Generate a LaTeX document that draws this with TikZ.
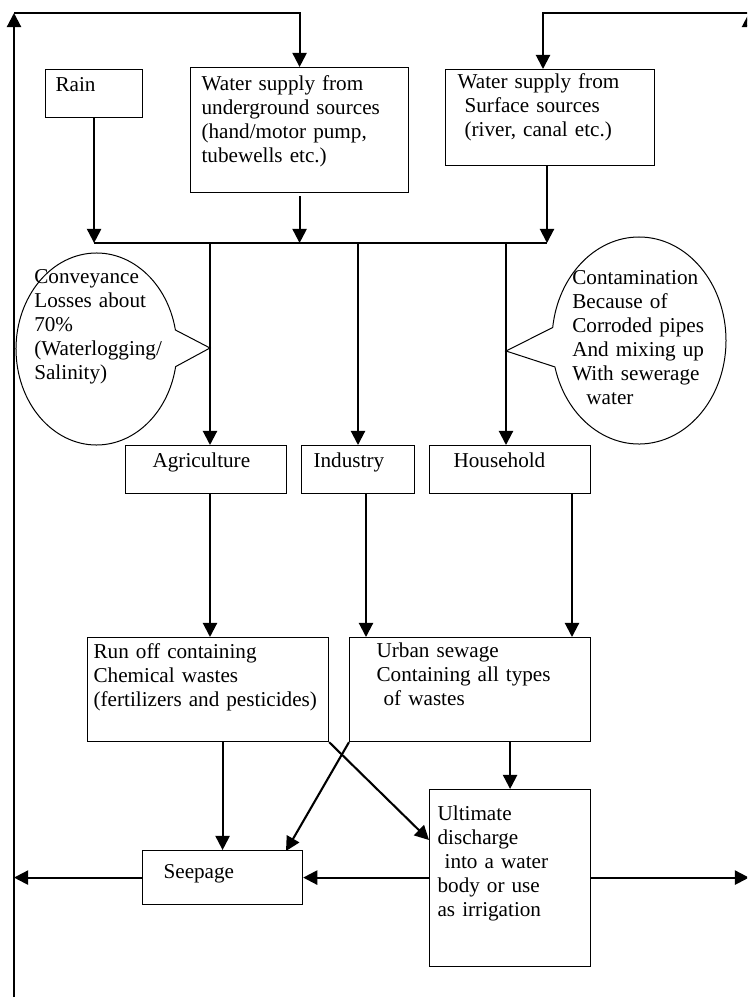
\documentclass[tikz,border=0pt]{standalone}
\usepackage{fontspec}
\setmainfont{Liberation Serif}
\usetikzlibrary{arrows.meta,shapes.callouts}

\begin{document}
\begin{tikzpicture}[x=0.6pt, y=-0.6pt,
    font=\fontsize{12.7pt}{14.4pt}\selectfont,
    box/.style={draw, line width=0.7pt, anchor=north west, align=left, inner ysep=0pt, text height=13.2pt},
    bubble/.style={ellipse callout, draw, line width=0.6pt, inner sep=0pt, callout pointer arc=22},
    note/.style={anchor=north west, align=left, inner sep=0pt, text width=100pt, text height=9pt},
    link/.style={line width=1.25pt},
    arr/.style={link, -{Triangle[length=8.5pt, width=8.5pt]}}]

    \useasboundingbox (0,0) rectangle (747,1000);
    \clip (0,0) rectangle (747,1000);

    % sources
    \node[box, inner xsep=6pt, text width=46.2pt, text depth=15.6pt] (rain) at (45,69) {Rain};
    \node[box, inner xsep=6.6pt, text width=117.6pt, text height=13.8pt, text depth=61.2pt] (ground) at (190,67) {Water supply from\\underground sources\\(hand/motor pump,\\tubewells etc.)};
    \node[box, inner xsep=7.2pt, text width=111pt, text height=11.4pt, text depth=46.2pt] (surface) at (445,69) {Water supply from\\\mbox{} Surface sources\\\mbox{} (river, canal etc.)};

    % users
    \node[box, inner xsep=16.2pt, text width=64.2pt, text depth=15.6pt] (agri) at (125,445) {Agriculture};
    \node[box, inner xsep=7.2pt, text width=53.4pt, text depth=15.6pt] (ind) at (301,445) {Industry};
    \node[box, inner xsep=14.4pt, text width=67.8pt, text depth=15.6pt] (house) at (429,445) {Household};

    % wastes
    \node[box, inner xsep=3.6pt, text width=137.4pt, text height=12.6pt, text depth=49.8pt] (runoff) at (87,637) {Run off containing\\Chemical wastes\\(fertilizers and pesticides)};
    \node[box, inner xsep=16.2pt, text width=112.2pt, text height=12pt, text depth=50.4pt] (sewage) at (349,637) {Urban sewage\\Containing all types\\\mbox{} of wastes};
    \node[box, inner xsep=4.8pt, text width=87pt, text height=18.6pt, text depth=87.6pt] (final) at (429,789) {Ultimate\\discharge\\\mbox{} into a water\\body or use\\as irrigation};
    \node[box, inner xsep=12.6pt, text width=70.8pt, text height=16.8pt, text depth=15.6pt] (seep) at (142,850) {Seepage};

    % helper points
    \coordinate (loopTL) at (14,13);
    \coordinate (loopBL) at (14,997);
    \coordinate (loopTR) at (749,13);
    \coordinate (loopBR) at (749,877);
    \coordinate (topR) at (543,13);
    \coordinate (busL) at (94,243);
    \coordinate (busR) at (547,243);
    \coordinate (dropA) at (210,243);
    \coordinate (dropI) at (358,243);
    \coordinate (dropH) at (506,243);
    \coordinate (colI) at (366,0);
    \coordinate (colH) at (572,0);
    \coordinate (lossTip) at (210,348);
    \coordinate (dirtTip) at (506,351);
    \coordinate (seepIn) at (286,851);
    \coordinate (finalIn) at (429,840);

    % callouts
    \node[bubble, minimum width=96.6pt, minimum height=115.2pt, callout absolute pointer=(lossTip)] (loss) at (96.5,349) {};
    \node[note] (losstext) at (34,268) {Conveyance\\Losses about\\70\%\\(Waterlogging/\\Salinity)};
    \node[bubble, minimum width=104.4pt, minimum height=124.2pt, callout absolute pointer=(dirtTip)] (dirt) at (639,340.5) {};
    \node[note] (dirttext) at (572,269) {Contamination\\Because of\\Corroded pipes\\And mixing up\\With sewerage\\\mbox{}\ \ water};

    % recycling loop
    \draw[arr] (loopBL) -- (loopTL);
    \draw[arr] (loopTL) -- (ground.north |- loopTL) -- (ground.north);
    \draw[arr] (loopBR) -- (loopTR);
    \draw[arr] (loopTR) -- (topR) -- (topR |- surface.north);

    % supply to the users
    \draw[link] (busL) -- (busR);
    \draw[arr] (rain.south) -- (rain.south |- busL);
    \draw[arr, shorten <=1.8pt] (ground.south) -- (ground.south |- busL);
    \draw[arr] (busR |- surface.south) -- (busR);
    \draw[arr] (dropA) -- (dropA |- agri.north);
    \draw[arr] (dropI) -- (dropI |- ind.north);
    \draw[arr] (dropH) -- (dropH |- house.north);

    % users to wastes
    \draw[arr] (agri.south -| dropA) -- (runoff.north -| dropA);
    \draw[arr] (ind.south -| colI) -- (sewage.north -| colI);
    \draw[arr] (house.south -| colH) -- (sewage.north -| colH);
    \draw[arr] (sewage.south -| final.north) -- (final.north);
    \draw[arr] (runoff.south -| seep.north) -- (seep.north);
    \draw[arr] (sewage.south west) -- (seepIn);
    \draw[arr] (runoff.south east) -- (finalIn);

    % outflows
    \draw[arr] (final.west |- seep.east) -- (seep.east);
    \draw[arr] (seep.west) -- (seep.west -| loopBL);
    \draw[arr] (final.east |- seep.east) -- (seep.east -| loopBR);
\end{tikzpicture}
\end{document}
